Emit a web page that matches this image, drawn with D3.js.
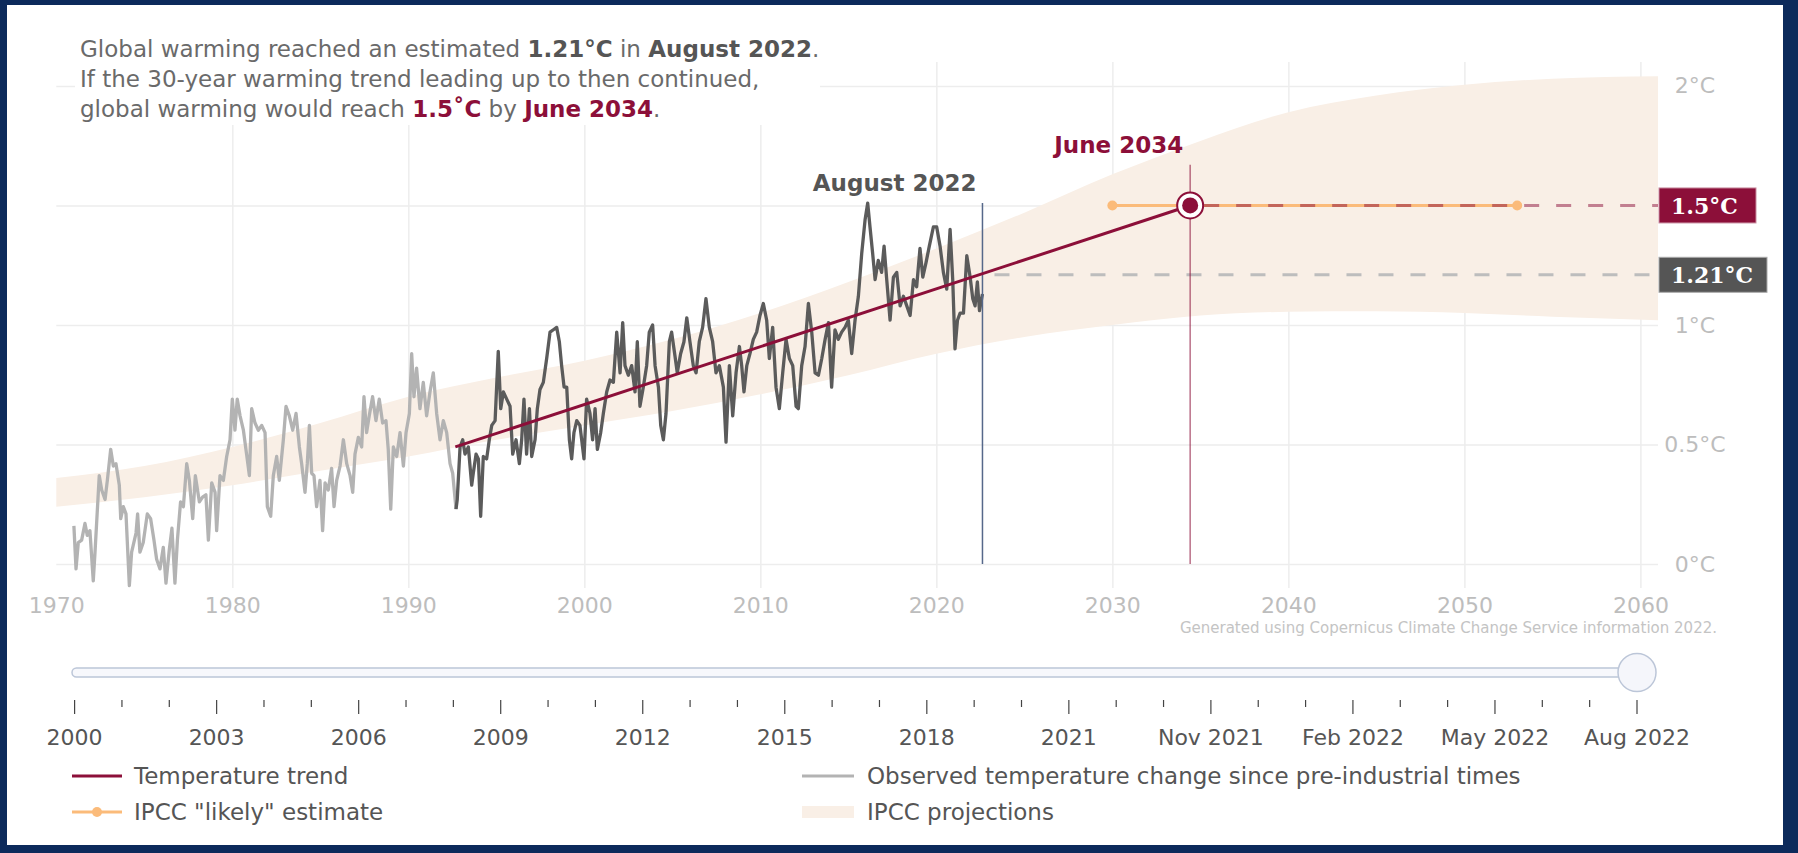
<!DOCTYPE html>
<html><head><meta charset="utf-8">
<script src="https://cdn.jsdelivr.net/npm/d3@7"></script>
<style>
html,body{margin:0;padding:0;background:#0c2a5b;}
svg{display:block;}
text{font-family:"DejaVu Sans",Verdana,sans-serif;}
</style></head><body>
<svg id="chart" width="1798" height="853"></svg>
<script>
// ---------------- DATA ----------------
const obsYears = [
1971.00,1971.12,1971.25,1971.44,1971.63,1971.76,1971.91,1972.10,1972.20,1972.44,1972.58,1972.77,1972.90,
1973.09,1973.24,1973.39,1973.58,1973.66,1973.81,1973.96,1974.15,1974.28,1974.53,1974.62,1974.75,1974.94,
1975.17,1975.36,1975.55,1975.70,1975.89,1976.08,1976.23,1976.42,1976.57,1976.74,1976.88,1977.06,1977.22,
1977.41,1977.56,1977.75,1977.90,1978.13,1978.31,1978.50,1978.64,1978.83,1979.02,1979.11,1979.30,1979.49,
1979.68,1979.87,1980.00,1980.15,1980.28,1980.44,1980.63,1980.81,1980.97,1981.10,1981.29,1981.48,1981.67,
1981.86,1981.99,1982.18,1982.33,1982.52,1982.67,1982.90,1983.05,1983.24,1983.43,1983.62,1983.81,1983.94,
1984.13,1984.26,1984.38,1984.51,1984.64,1984.79,1984.98,1985.13,1985.27,1985.45,1985.64,1985.78,1985.93,
1986.12,1986.31,1986.50,1986.69,1986.84,1986.97,1987.16,1987.35,1987.48,1987.63,1987.78,1987.97,1988.16,
1988.35,1988.54,1988.73,1988.86,1989.00,1989.15,1989.34,1989.53,1989.72,1989.87,1990.06,1990.19,1990.32,
1990.47,1990.66,1990.85,1991.04,1991.23,1991.42,1991.61,1991.80,1991.99,1992.18,1992.37,1992.52,1992.71,
1992.78,1992.94,1993.09,1993.22,1993.41,1993.60,1993.69,1993.85,1993.98,1994.11,1994.26,1994.45,1994.60,
1994.74,1994.93,1995.11,1995.25,1995.40,1995.59,1995.78,1995.93,1996.12,1996.31,1996.44,1996.57,1996.72,
1996.88,1997.01,1997.20,1997.33,1997.48,1997.67,1997.86,1998.05,1998.24,1998.43,1998.58,1998.71,1998.85,
1999.00,1999.15,1999.28,1999.41,1999.57,1999.75,1999.98,2000.13,2000.32,2000.47,2000.61,2000.74,2000.93,
2001.08,2001.27,2001.46,2001.65,2001.84,2002.03,2002.18,2002.31,2002.50,2002.69,2002.88,2003.01,2003.16,
2003.35,2003.54,2003.69,2003.88,2004.02,2004.21,2004.34,2004.49,2004.64,2004.83,2004.96,2005.15,2005.28,
2005.47,2005.66,2005.82,2006.00,2006.19,2006.35,2006.53,2006.72,2006.91,2007.10,2007.29,2007.48,2007.67,
2007.90,2008.05,2008.24,2008.43,2008.62,2008.81,2008.94,2009.07,2009.23,2009.41,2009.60,2009.79,2009.98,
2010.17,2010.36,2010.51,2010.70,2010.89,2011.08,2011.27,2011.46,2011.65,2011.84,2012.03,2012.16,2012.35,
2012.54,2012.73,2012.92,2013.11,2013.30,2013.49,2013.68,2013.87,2014.05,2014.24,2014.43,2014.62,2014.81,
2015.00,2015.19,2015.38,2015.57,2015.76,2015.95,2016.10,2016.23,2016.38,2016.52,2016.70,2016.89,2017.03,
2017.18,2017.37,2017.56,2017.75,2017.94,2018.13,2018.32,2018.51,2018.70,2018.88,2019.07,2019.23,2019.41,
2019.60,2019.83,2020.02,2020.21,2020.40,2020.59,2020.78,2020.93,2021.06,2021.20,2021.35,2021.54,2021.73,
2021.92,2022.07,2022.20,2022.33,2022.45,2022.62];
const obsValues = [
0.16,-0.02,0.09,0.10,0.17,0.12,0.14,-0.07,0.05,0.37,0.31,0.27,0.35,
0.48,0.41,0.42,0.33,0.19,0.24,0.21,-0.09,0.05,0.13,0.21,0.05,0.09,
0.21,0.19,0.10,0.02,-0.02,0.07,-0.08,0.06,0.15,-0.08,0.10,0.26,0.24,
0.42,0.35,0.19,0.37,0.26,0.28,0.29,0.10,0.34,0.30,0.14,0.37,0.35,
0.45,0.52,0.69,0.56,0.69,0.62,0.56,0.46,0.37,0.65,0.59,0.56,0.58,
0.55,0.24,0.20,0.37,0.45,0.35,0.52,0.66,0.62,0.56,0.63,0.49,0.42,
0.30,0.42,0.58,0.38,0.37,0.24,0.35,0.14,0.34,0.31,0.40,0.24,0.35,
0.41,0.52,0.42,0.37,0.30,0.46,0.53,0.49,0.70,0.55,0.62,0.70,0.60,
0.69,0.59,0.60,0.48,0.23,0.49,0.45,0.55,0.41,0.55,0.63,0.88,0.70,
0.82,0.65,0.76,0.62,0.72,0.80,0.63,0.52,0.60,0.55,0.42,0.38,0.23,
0.27,0.49,0.52,0.46,0.49,0.33,0.38,0.46,0.44,0.20,0.45,0.44,0.52,
0.58,0.60,0.89,0.65,0.72,0.69,0.66,0.46,0.52,0.42,0.52,0.69,0.46,
0.65,0.45,0.52,0.65,0.73,0.76,0.86,0.97,0.98,0.99,0.93,0.83,0.74,
0.74,0.52,0.44,0.55,0.60,0.58,0.44,0.69,0.63,0.52,0.65,0.48,0.55,
0.63,0.72,0.77,0.76,0.97,0.80,1.01,0.83,0.79,0.83,0.72,0.93,0.66,
0.74,0.83,0.97,1.00,0.83,0.74,0.58,0.52,0.63,0.93,0.97,0.87,0.80,
0.88,0.93,1.03,0.93,0.83,0.80,0.93,0.99,1.11,0.99,0.93,0.80,0.83,
0.74,0.51,0.83,0.62,0.80,0.91,0.83,0.72,0.83,0.88,0.94,0.97,1.04,
1.09,1.02,0.86,0.99,0.74,0.65,0.80,0.94,0.86,0.83,0.66,0.65,0.83,
0.91,1.09,0.97,0.80,0.79,0.86,0.94,1.01,0.74,0.98,0.94,0.97,0.99,
1.02,0.88,1.02,1.12,1.30,1.44,1.51,1.41,1.30,1.19,1.27,1.22,1.33,
1.19,1.02,1.20,1.22,1.08,1.12,1.08,1.04,1.19,1.16,1.32,1.20,1.26,
1.33,1.41,1.41,1.33,1.22,1.15,1.40,1.19,0.90,1.02,1.05,1.05,1.29,
1.20,1.11,1.08,1.18,1.06,1.13];
const splitYear = 1992.71;          // light grey before, dark grey after

const bandYears = [1970,1975,1980,1985,1990,1995,2000,2005,2010,2015,2020,2025,2030,2035,2040,2045,2050,2055,2061];
const bandLow   = [0.24,0.28,0.33,0.39,0.45,0.52,0.58,0.64,0.71,0.79,0.88,0.95,1.00,1.04,1.055,1.057,1.05,1.035,1.02];
const bandHigh  = [0.36,0.41,0.49,0.59,0.70,0.78,0.85,0.94,1.05,1.18,1.32,1.47,1.63,1.77,1.89,1.96,2.005,2.03,2.04];

const trendYears  = [1992.67, 2034.42];
const trendValues = [0.49, 1.5];
const likelyYears = [2030, 2053];
const likelyValue = 1.5;
const currentYear = 2022.62, currentValue = 1.21, currentTop = 1.51, currentLabel = "August 2022", currentBox = "1.21°C";
const targetYear = 2034.42, targetValue = 1.5, targetTop = 1.67, targetLabel = "June 2034", targetBox = "1.5°C";

const xTicks = [1970,1980,1990,2000,2010,2020,2030,2040,2050,2060];
const yTicks = [0,0.5,1,1.5,2];
const yTickLabels = ["0°C","0.5°C","1°C","","2°C"];
const sliderLabels = ["2000","2003","2006","2009","2012","2015","2018","2021","Nov 2021","Feb 2022","May 2022","Aug 2022"];
const legendLabels = ["Temperature trend","IPCC \"likely\" estimate","Observed temperature change since pre-industrial times","IPCC projections"];

// ---------------- COLOURS ----------------
const CRIMSON = "#8c0f39", ORANGE = "#fbbb7a", LIGHT = "#b3b3b3", DARK = "#5b5b5b", BAND = "#f9efe6";
const GRID = "#ededed", AXISTXT = "#bdbdbd";

const svg = d3.select("#chart");
svg.append("rect").attr("x",7).attr("y",5).attr("width",1776).attr("height",840).attr("fill","#fff");

const x = d3.scaleLinear().domain([1970, 2061]).range([56.3, 1658]);
const y = d3.scaleLinear().domain([-0.1, 2.1]).range([588, 62]);

// gridlines + axes
const gx = svg.append("g").attr("transform", `translate(0,${y.range()[0]})`)
  .call(d3.axisBottom(x).tickValues(xTicks).tickFormat(d3.format("d"))
        .tickSizeInner(-(y.range()[0]-y.range()[1])).tickSizeOuter(0).tickPadding(9));
gx.select(".domain").remove();
gx.selectAll(".tick line").attr("stroke", GRID).attr("stroke-width",1.5)
  .filter(d => d === 1970).remove();
gx.selectAll(".tick text").attr("fill", AXISTXT).style("font-size","22px");

const gy = svg.append("g").attr("transform", `translate(${x.range()[1]},0)`)
  .call(d3.axisRight(y).tickValues(yTicks).tickFormat((d,i) => yTickLabels[i])
        .tickSizeInner(-(x.range()[1]-x.range()[0])).tickSizeOuter(0).tickPadding(37));
gy.select(".domain").remove();
gy.selectAll(".tick line").attr("stroke", GRID).attr("stroke-width",1.5);
gy.selectAll(".tick text").attr("fill", AXISTXT).attr("text-anchor","middle").style("font-size","22px");

// band
const band = bandYears.map((d,i)=>({yr:d, lo:bandLow[i], hi:bandHigh[i]}));
svg.append("path").datum(band).attr("fill", BAND)
  .attr("d", d3.area().curve(d3.curveMonotoneX).x(d=>x(d.yr)).y0(d=>y(d.lo)).y1(d=>y(d.hi)));

// title box
svg.append("rect").attr("x",75).attr("y",30).attr("width",745).attr("height",95).attr("fill","#fff");
const title = svg.append("g").style("font-size","23px").attr("fill","#6a6a6a");
const tl = [
  [["Global warming reached an estimated ",null],["1.21°C","#555"],[" in ",null],["August 2022","#555"],[".",null]],
  [["If the 30-year warming trend leading up to then continued,",null]],
  [["global warming would reach ",null],["1.5˚C",CRIMSON],[" by ",null],["June 2034",CRIMSON],[".",null]]
];
tl.forEach((line,i)=>{
  const t = title.append("text").attr("x",80).attr("y",57+i*30);
  line.forEach(([s,c])=>{ const ts=t.append("tspan").text(s); if(c){ts.attr("fill",c).attr("font-weight","bold");} });
});

// observed series
const obs = obsYears.map((d,i)=>({yr:d, v:obsValues[i]}));
const line = d3.line().x(d=>x(d.yr)).y(d=>y(d.v));
svg.append("path").datum(obs.filter(d=>d.yr<=splitYear)).attr("fill","none").attr("stroke",LIGHT)
  .attr("stroke-width",3.3).attr("stroke-linejoin","round").attr("d",line);
svg.append("path").datum(obs.filter(d=>d.yr>=splitYear)).attr("fill","none").attr("stroke",DARK)
  .attr("stroke-width",3.3).attr("stroke-linejoin","round").attr("d",line);

// current (Aug 2022) marker line
svg.append("line").attr("x1",x(currentYear)).attr("x2",x(currentYear)).attr("y1",y(currentTop)).attr("y2",y(0))
  .attr("stroke","#56688a").attr("stroke-width",1.5);
// grey dashed current level
svg.append("line").attr("x1",x(currentYear)).attr("x2",x.range()[1]).attr("y1",y(currentValue)).attr("y2",y(currentValue))
  .attr("stroke","#bdbdbd").attr("stroke-width",3).attr("stroke-dasharray","15,17").attr("stroke-dashoffset",-12);

// likely range
svg.append("line").attr("x1",x(likelyYears[0])).attr("x2",x(likelyYears[1])).attr("y1",y(likelyValue)).attr("y2",y(likelyValue))
  .attr("stroke",ORANGE).attr("stroke-width",3);
svg.selectAll(".ldot").data(likelyYears).enter().append("circle").attr("cx",d=>x(d)).attr("cy",y(likelyValue))
  .attr("r",5).attr("fill",ORANGE);

// target vertical line
svg.append("line").attr("x1",x(targetYear)).attr("x2",x(targetYear)).attr("y1",y(targetTop)).attr("y2",y(0))
  .attr("stroke",CRIMSON).attr("stroke-opacity",0.6).attr("stroke-width",1.5);
// crimson dashed target level
svg.append("line").attr("x1",x(targetYear)+14).attr("x2",x.range()[1]).attr("y1",y(targetValue)).attr("y2",y(targetValue))
  .attr("stroke",CRIMSON).attr("stroke-opacity",0.5).attr("stroke-width",3).attr("stroke-dasharray","15,17");

// trend line
svg.append("path").datum(trendYears.map((d,i)=>({yr:d,v:trendValues[i]}))).attr("fill","none")
  .attr("stroke",CRIMSON).attr("stroke-width",3).attr("d",line);

// target marker
svg.append("circle").attr("cx",x(targetYear)).attr("cy",y(targetValue)).attr("r",13).attr("fill","#fff")
  .attr("stroke",CRIMSON).attr("stroke-width",2);
svg.append("circle").attr("cx",x(targetYear)).attr("cy",y(targetValue)).attr("r",8).attr("fill",CRIMSON);

// annotations
svg.append("text").attr("x",x(currentYear)-6).attr("y",191).attr("text-anchor","end").attr("font-weight","bold")
  .attr("fill","#555").style("font-size","23px").text(currentLabel);
svg.append("text").attr("x",x(targetYear)-7).attr("y",153).attr("text-anchor","end").attr("font-weight","bold")
  .attr("fill",CRIMSON).style("font-size","23px").text(targetLabel);

// value boxes
function box(v, label, fill, stroke, w){
  const g = svg.append("g").attr("transform",`translate(${x.range()[1]+1},${y(v)-17.5})`);
  g.append("rect").attr("width",w).attr("height",35).attr("fill",fill).attr("stroke",stroke).attr("stroke-width",1);
  g.append("text").attr("x",12).attr("y",26).attr("fill","#fff").attr("font-weight","bold")
   .style("font-family","'DejaVu Serif',serif").style("font-size","22px").text(label);
}
box(targetValue, targetBox, CRIMSON, "#c98ea0", 97);
box(currentValue, currentBox, "#555", "#aaa", 108);

// source note
svg.append("text").attr("x",1717).attr("y",633).attr("text-anchor","end").attr("fill","#c4c4c4")
  .style("font-size","15px").text("Generated using Copernicus Climate Change Service information 2022.");

// slider
const nSteps = (sliderLabels.length-1)*3;
const sx = d3.scaleLinear().domain([0,nSteps]).range([74.6,1637]);
svg.append("rect").attr("x",72).attr("y",668).attr("width",1568).attr("height",9).attr("rx",4.5)
  .attr("fill","#f7f8fc").attr("stroke","#bcc6d8").attr("stroke-width",1.5);
svg.append("circle").attr("cx",sx(nSteps)).attr("cy",672.5).attr("r",19).attr("fill","#f5f6fb")
  .attr("stroke","#bcc6d8").attr("stroke-width",1.5);
svg.selectAll(".stick").data(d3.range(nSteps+1)).enter().append("line")
  .attr("x1",d=>sx(d)).attr("x2",d=>sx(d)).attr("y1",700).attr("y2",d=>d%3===0?714:707)
  .attr("stroke","#444").attr("stroke-width",1.2);
svg.selectAll(".slab").data(sliderLabels).enter().append("text")
  .attr("x",(d,i)=>sx(i*3)).attr("y",745).attr("text-anchor","middle").attr("fill","#555")
  .style("font-size","22px").text(d=>d);

// legend
const lg = svg.append("g").style("font-size","23px").attr("fill","#555");
const legPos = [[72,776],[72,812],[802,776],[802,812]];
legendLabels.forEach((lab,i)=>{
  const [lx,ly] = legPos[i];
  if(i===0) lg.append("line").attr("x1",lx).attr("x2",lx+50).attr("y1",ly).attr("y2",ly).attr("stroke",CRIMSON).attr("stroke-width",3);
  if(i===1){ lg.append("line").attr("x1",lx).attr("x2",lx+50).attr("y1",ly).attr("y2",ly).attr("stroke",ORANGE).attr("stroke-width",3);
             lg.append("circle").attr("cx",lx+25).attr("cy",ly).attr("r",5).attr("fill",ORANGE); }
  if(i===2) lg.append("line").attr("x1",lx).attr("x2",lx+52).attr("y1",ly).attr("y2",ly).attr("stroke",LIGHT).attr("stroke-width",3);
  if(i===3) lg.append("rect").attr("x",lx).attr("y",ly-6).attr("width",52).attr("height",12).attr("fill",BAND);
  lg.append("text").attr("x",lx+(i<2?62:65)).attr("y",ly).attr("dy","0.35em").text(lab);
});
</script>
</body></html>
